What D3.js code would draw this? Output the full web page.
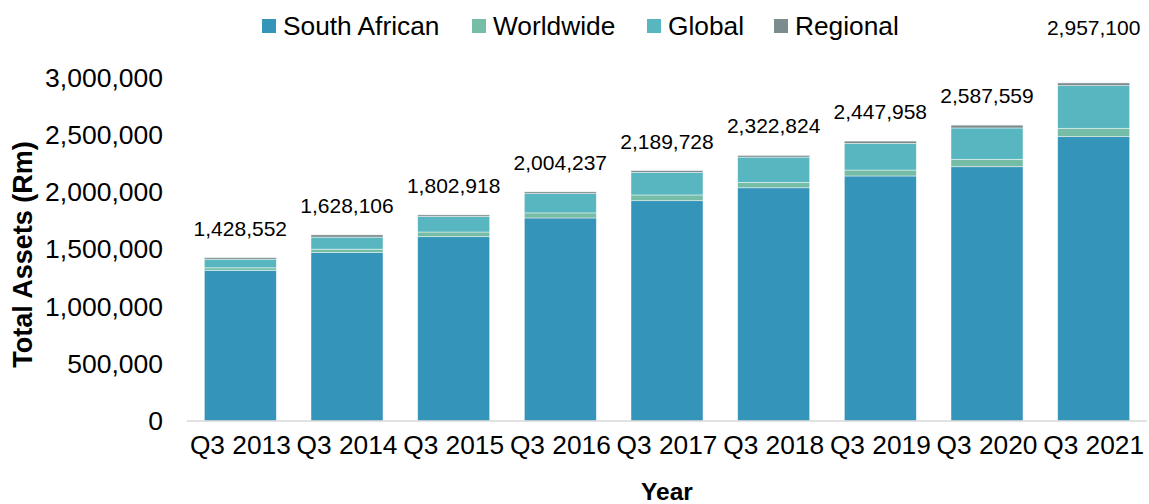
<!DOCTYPE html>
<html>
<head>
<meta charset="utf-8">
<script src="https://cdn.jsdelivr.net/npm/d3@7"></script>
<style>
  html, body { margin: 0; padding: 0; background: #fff; }
  svg { display: block; font-family: "Liberation Sans", Arial, sans-serif; }
</style>
</head>
<body>
<svg id="chart" width="1149" height="504"></svg>
<script>
const categories = ["Q3 2013", "Q3 2014", "Q3 2015", "Q3 2016", "Q3 2017", "Q3 2018", "Q3 2019", "Q3 2020", "Q3 2021"];
const seriesNames = ["South African", "Worldwide", "Global", "Regional"];
const southAfrican = [1318000, 1473000, 1612000, 1776000, 1927000, 2040000, 2143000, 2224000, 2487000];
const worldwide    = [22000, 30000, 41000, 44000, 50000, 47000, 52000, 65000, 73000];
const global       = [75000, 105000, 136000, 169000, 198000, 221000, 233000, 274000, 373000];
const regional     = [13552, 20106, 13918, 15237, 14728, 14824, 19958, 24559, 24100];
const totals       = [1428552, 1628106, 1802918, 2004237, 2189728, 2322824, 2447958, 2587559, 2957100];
const yTicks       = [0, 500000, 1000000, 1500000, 2000000, 2500000, 3000000];
const colors       = ["#3494BA", "#75BDA7", "#58B6C0", "#7A8C8E"];

const svg = d3.select("#chart");
const margin = { left: 187, right: 2, top: 78, bottom: 83 };
const W = 1149, H = 504;

const x = d3.scaleBand().domain(categories).range([margin.left, W - margin.right])
  .paddingInner(0.325).paddingOuter(0.1625);
const y = d3.scaleLinear().domain([0, 3000000]).range([421, 78]);

const rows = categories.map((c, i) => ({
  cat: c,
  "South African": southAfrican[i],
  "Worldwide": worldwide[i],
  "Global": global[i],
  "Regional": regional[i]
}));
const stacked = d3.stack().keys(seriesNames)(rows);

// bars
svg.append("g").selectAll("g").data(stacked).join("g")
  .attr("fill", (d, i) => colors[i])
  .selectAll("rect").data(d => d).join("rect")
  .attr("x", d => x(d.data.cat))
  .attr("width", x.bandwidth())
  .attr("y", d => y(d[1]))
  .attr("height", d => y(d[0]) - y(d[1]))
  .attr("stroke", "#ffffff")
  .attr("stroke-opacity", 0.6)
  .attr("stroke-width", 0.75);

// baseline
svg.append("line")
  .attr("x1", margin.left).attr("x2", W - margin.right)
  .attr("y1", y(0)).attr("y2", y(0))
  .attr("stroke", "#D9D9D9").attr("stroke-width", 1.5);

// y axis
const yAxis = d3.axisLeft(y).tickValues(yTicks).tickFormat(d3.format(",")).tickSize(0).tickPadding(24);
const gy = svg.append("g").attr("transform", `translate(${margin.left},0)`).call(yAxis);
gy.select(".domain").remove();
gy.selectAll("text").attr("font-size", 26.5).attr("fill", "#000").attr("font-family", "Liberation Sans, Arial, sans-serif");

// x axis
const xAxis = d3.axisBottom(x).tickSize(0).tickPadding(14);
const gx = svg.append("g").attr("transform", `translate(0,${y(0)})`).call(xAxis);
gx.select(".domain").remove();
gx.selectAll("text").attr("font-size", 26.3).attr("fill", "#000").attr("font-family", "Liberation Sans, Arial, sans-serif");

// data labels
svg.append("g").selectAll("text").data(totals).join("text")
  .attr("x", (d, i) => x(categories[i]) + x.bandwidth() / 2)
  .attr("y", (d, i) => y(d) - (i === totals.length - 1 ? 48 : 22))
  .attr("text-anchor", "middle")
  .attr("font-size", 21)
  .attr("fill", "#000")
  .text(d => d3.format(",")(d));

// axis titles
svg.append("text")
  .attr("x", (margin.left + W - margin.right) / 2)
  .attr("y", 500)
  .attr("text-anchor", "middle")
  .attr("font-size", 24.5)
  .attr("font-weight", "bold")
  .text("Year");

svg.append("text")
  .attr("transform", `translate(32,${(78 + 421) / 2 + 5}) rotate(-90)`)
  .attr("text-anchor", "middle")
  .attr("font-size", 27)
  .attr("font-weight", "bold")
  .text("Total Assets (Rm)");

// legend
const legendX = [262, 472, 647, 774];
const lg = svg.append("g").selectAll("g").data(seriesNames).join("g")
  .attr("transform", (d, i) => `translate(${legendX[i]},19)`);
lg.append("rect").attr("width", 14).attr("height", 14).attr("fill", (d, i) => colors[i]);
lg.append("text").attr("x", 21).attr("y", 16).attr("font-size", 26.3).attr("fill", "#000").text(d => d);
</script>
</body>
</html>
